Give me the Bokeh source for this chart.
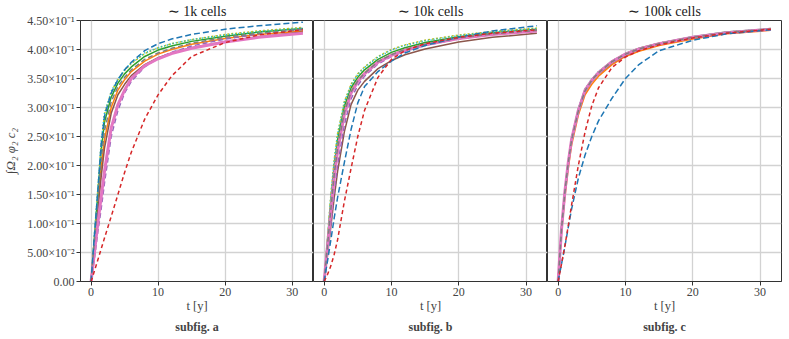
from bokeh.plotting import figure
from bokeh.layouts import row
from bokeh.models import Range1d, FixedTicker, CustomJSTickFormatter, Title
from bokeh.embed import file_html
from bokeh.resources import INLINE

# ---------------- data ----------------
t = [0, 0.5, 1, 1.5, 2, 3, 4, 5, 6, 8, 10, 12, 15, 20, 25, 31.6]

panel_titles = ["\u223c 1k cells", "\u223c 10k cells", "\u223c 100k cells"]
subfig_labels = ["subfig. a", "subfig. b", "subfig. c"]
x_ticks = [0, 10, 20, 30]
y_ticks = [0, 0.05, 0.10, 0.15, 0.20, 0.25, 0.30, 0.35, 0.40, 0.45]

# panel a (~1k cells)
a_blue   = [0, 0.080, 0.155, 0.235, 0.285, 0.325, 0.348, 0.365, 0.378, 0.398, 0.410, 0.418, 0.426, 0.435, 0.441, 0.447]
a_orange = [0, 0.065, 0.130, 0.195, 0.245, 0.300, 0.330, 0.348, 0.362, 0.380, 0.392, 0.400, 0.409, 0.419, 0.426, 0.432]
a_green  = [0, 0.075, 0.150, 0.225, 0.275, 0.318, 0.342, 0.358, 0.370, 0.388, 0.399, 0.406, 0.414, 0.423, 0.430, 0.436]
a_red    = [0, 0.018, 0.037, 0.056, 0.075, 0.112, 0.150, 0.188, 0.223, 0.280, 0.322, 0.354, 0.388, 0.412, 0.425, 0.434]
a_purple = [0, 0.040, 0.085, 0.125, 0.170, 0.250, 0.295, 0.325, 0.345, 0.370, 0.385, 0.395, 0.406, 0.418, 0.427, 0.435]
a_brown  = [0, 0.060, 0.120, 0.180, 0.230, 0.290, 0.322, 0.340, 0.355, 0.374, 0.386, 0.394, 0.403, 0.414, 0.422, 0.430]
a_pink   = [0, 0.050, 0.100, 0.145, 0.190, 0.265, 0.305, 0.330, 0.350, 0.372, 0.384, 0.393, 0.402, 0.413, 0.421, 0.428]
a_gray   = [0, 0.070, 0.140, 0.210, 0.260, 0.310, 0.336, 0.352, 0.365, 0.383, 0.394, 0.402, 0.411, 0.421, 0.428, 0.434]
a_olive  = [0, 0.080, 0.157, 0.237, 0.288, 0.327, 0.348, 0.364, 0.376, 0.393, 0.403, 0.410, 0.417, 0.426, 0.432, 0.438]
a_cyan   = [0, 0.082, 0.160, 0.240, 0.290, 0.328, 0.349, 0.365, 0.377, 0.394, 0.403, 0.410, 0.417, 0.425, 0.431, 0.437]

# panel b (~10k cells)
b_blue   = [0, 0.035, 0.072, 0.110, 0.145, 0.205, 0.262, 0.308, 0.336, 0.362, 0.380, 0.394, 0.407, 0.421, 0.432, 0.441]
b_orange = [0, 0.065, 0.130, 0.190, 0.235, 0.295, 0.328, 0.347, 0.360, 0.379, 0.391, 0.400, 0.409, 0.419, 0.426, 0.432]
b_green  = [0, 0.070, 0.140, 0.200, 0.245, 0.302, 0.334, 0.352, 0.365, 0.383, 0.395, 0.403, 0.412, 0.422, 0.429, 0.435]
b_red    = [0, 0.012, 0.027, 0.047, 0.072, 0.138, 0.195, 0.250, 0.295, 0.352, 0.383, 0.398, 0.410, 0.421, 0.428, 0.434]
b_purple = [0, 0.050, 0.100, 0.155, 0.200, 0.270, 0.315, 0.338, 0.354, 0.375, 0.388, 0.397, 0.407, 0.418, 0.426, 0.433]
b_brown  = [0, 0.045, 0.095, 0.145, 0.190, 0.258, 0.305, 0.330, 0.345, 0.367, 0.381, 0.391, 0.401, 0.413, 0.421, 0.428]
b_pink   = [0, 0.060, 0.120, 0.180, 0.225, 0.288, 0.325, 0.345, 0.358, 0.378, 0.390, 0.399, 0.408, 0.419, 0.426, 0.432]
b_gray   = [0, 0.062, 0.125, 0.185, 0.230, 0.292, 0.327, 0.346, 0.359, 0.379, 0.391, 0.400, 0.409, 0.420, 0.427, 0.433]
b_olive  = [0, 0.075, 0.150, 0.210, 0.255, 0.310, 0.340, 0.358, 0.370, 0.388, 0.400, 0.408, 0.416, 0.425, 0.431, 0.437]
b_cyan   = [0, 0.074, 0.148, 0.208, 0.253, 0.309, 0.339, 0.357, 0.369, 0.387, 0.399, 0.407, 0.415, 0.424, 0.430, 0.436]

# panel c (~100k cells)
c_blue   = [0, 0.030, 0.060, 0.093, 0.125, 0.178, 0.218, 0.250, 0.277, 0.316, 0.350, 0.374, 0.398, 0.416, 0.427, 0.434]
c_orange = [0, 0.085, 0.145, 0.195, 0.235, 0.287, 0.322, 0.340, 0.354, 0.374, 0.388, 0.397, 0.407, 0.418, 0.427, 0.433]
c_green  = [0, 0.092, 0.157, 0.207, 0.247, 0.297, 0.331, 0.348, 0.361, 0.380, 0.393, 0.402, 0.411, 0.422, 0.430, 0.436]
c_red    = [0, 0.030, 0.061, 0.096, 0.132, 0.200, 0.258, 0.303, 0.334, 0.369, 0.387, 0.398, 0.408, 0.420, 0.428, 0.435]
c_purple = [0, 0.088, 0.152, 0.202, 0.242, 0.293, 0.328, 0.346, 0.359, 0.378, 0.391, 0.400, 0.410, 0.421, 0.429, 0.435]
c_brown  = [0, 0.087, 0.151, 0.201, 0.241, 0.292, 0.327, 0.345, 0.358, 0.377, 0.390, 0.400, 0.409, 0.420, 0.428, 0.434]
c_pink   = [0, 0.090, 0.155, 0.205, 0.245, 0.295, 0.330, 0.347, 0.360, 0.379, 0.392, 0.401, 0.410, 0.421, 0.429, 0.435]
c_gray   = [0, 0.090, 0.154, 0.204, 0.244, 0.294, 0.329, 0.347, 0.360, 0.379, 0.392, 0.401, 0.410, 0.421, 0.429, 0.435]
c_olive  = [0, 0.091, 0.156, 0.206, 0.246, 0.296, 0.331, 0.348, 0.361, 0.380, 0.393, 0.402, 0.411, 0.421, 0.429, 0.435]
c_cyan   = [0, 0.093, 0.158, 0.208, 0.248, 0.298, 0.332, 0.349, 0.362, 0.380, 0.393, 0.402, 0.411, 0.422, 0.430, 0.436]

panels = [
    {"orange": a_orange, "green": a_green, "brown": a_brown, "olive": a_olive, "cyan": a_cyan,
     "purple": a_purple, "pink": a_pink, "gray": a_gray, "blue": a_blue, "red": a_red},
    {"orange": b_orange, "green": b_green, "brown": b_brown, "olive": b_olive, "cyan": b_cyan,
     "purple": b_purple, "pink": b_pink, "gray": b_gray, "blue": b_blue, "red": b_red},
    {"orange": c_orange, "green": c_green, "brown": c_brown, "olive": c_olive, "cyan": c_cyan,
     "purple": c_purple, "pink": c_pink, "gray": c_gray, "blue": c_blue, "red": c_red},
]

# ---------------- styles ----------------
STYLE = {
    "blue":   dict(color="#1f77b4", dash="6 3", width=1.5),
    "orange": dict(color="#ff7f0e", dash="solid", width=1.5),
    "green":  dict(color="#2ca02c", dash="solid", width=1.5),
    "red":    dict(color="#d62728", dash="4 3", width=1.5),
    "purple": dict(color="#9467bd", dash="5 3", width=1.5),
    "brown":  dict(color="#8c564b", dash="solid", width=1.5),
    "pink":   dict(color="#e377c2", dash="solid", width=3.0),
    "gray":   dict(color="#7f7f7f", dash="5 3", width=1.5),
    "olive":  dict(color="#bcbd22", dash="2 2", width=1.5),
    "cyan":   dict(color="#17becf", dash="1 2", width=1.5),
}

FONT = "Liberation Serif"
FRAME_H = 261
FRAME_W = [233, 234, 234]
LEFT = [80, 0, 0]
RIGHT = [0, 0, 6]

yfmt = CustomJSTickFormatter(code="""
    if (Math.abs(tick) < 1e-12) return "0.00";
    const e = Math.floor(Math.log10(Math.abs(tick)) + 1e-9);
    const m = tick / Math.pow(10, e);
    const sup = {"-":"\u207b","0":"\u2070","1":"\u00b9","2":"\u00b2","3":"\u00b3","4":"\u2074",
                 "5":"\u2075","6":"\u2076","7":"\u2077","8":"\u2078","9":"\u2079"};
    return m.toFixed(2) + "\u00d710" + String(e).split("").map(c => sup[c]).join("");
""")

figs = []
for i in range(3):
    p = figure(frame_width=FRAME_W[i], frame_height=FRAME_H,
               x_range=Range1d(-1.58, 33.18), y_range=Range1d(0, 0.45),
               output_backend="svg", toolbar_location=None,
               y_axis_location="left" if i == 0 else None,
               min_border_left=LEFT[i], min_border_right=RIGHT[i],
               min_border_top=20, min_border_bottom=56)
    p.title.text = panel_titles[i]
    p.title.align = "center"
    p.title.text_font = FONT
    p.title.text_font_size = "14px"
    p.title.text_font_style = "normal"
    p.title.text_color = "#222222"
    p.title.standoff = 3
    p.title.offset = 0
    p.outline_line_color = "#333333"
    p.outline_line_width = 1
    p.outline_line_alpha = 1
    p.background_fill_color = "white"
    p.border_fill_color = "white"

    p.xaxis.ticker = FixedTicker(ticks=x_ticks)
    p.xaxis.axis_label = "t [y]"
    p.xaxis.axis_label_text_font = FONT
    p.xaxis.axis_label_text_font_size = "12.5px"
    p.xaxis.axis_label_text_font_style = "normal"
    p.xaxis.axis_label_standoff = 0
    p.xaxis.major_label_text_font = FONT
    p.xaxis.major_label_text_font_size = "12px"
    p.xaxis.major_label_standoff = 2
    p.xaxis.minor_tick_line_color = None
    p.xaxis.major_tick_out = 4
    p.xaxis.major_tick_in = 0
    p.xaxis.axis_line_color = "#333333"
    p.xaxis.major_tick_line_color = "#333333"

    p.xgrid.ticker = FixedTicker(ticks=x_ticks)
    p.ygrid.ticker = FixedTicker(ticks=y_ticks)
    for g in (p.xgrid, p.ygrid):
        g.grid_line_color = "#d2d2d2"
        g.grid_line_width = 1.3

    if i == 0:
        p.yaxis.ticker = FixedTicker(ticks=y_ticks)
        p.yaxis.formatter = yfmt
        p.yaxis.axis_label = "\u222b\u03a9\u2082 \u03c6\u2082 c\u2082"
        p.yaxis.axis_label_text_font = FONT
        p.yaxis.axis_label_text_font_size = "13px"
        p.yaxis.axis_label_text_font_style = "italic"
        p.yaxis.axis_label_standoff = 6
        p.yaxis.major_label_text_font = FONT
        p.yaxis.major_label_text_font_size = "12px"
        p.yaxis.major_label_standoff = 2
        p.yaxis.minor_tick_line_color = None
        p.yaxis.major_tick_out = 4
        p.yaxis.major_tick_in = 0
        p.yaxis.axis_line_color = "#333333"
        p.yaxis.major_tick_line_color = "#333333"

    for name, ys in panels[i].items():
        st = STYLE[name]
        p.line(t, ys, line_color=st["color"], line_width=st["width"],
               line_dash=st["dash"])

    p.add_layout(Title(text=subfig_labels[i], align="center", text_font=FONT,
                       text_font_size="12px", text_font_style="bold",
                       standoff=5), "below")
    figs.append(p)

layout = row(*figs, spacing=0)
open("out.html", "w").write(file_html(layout, INLINE))
